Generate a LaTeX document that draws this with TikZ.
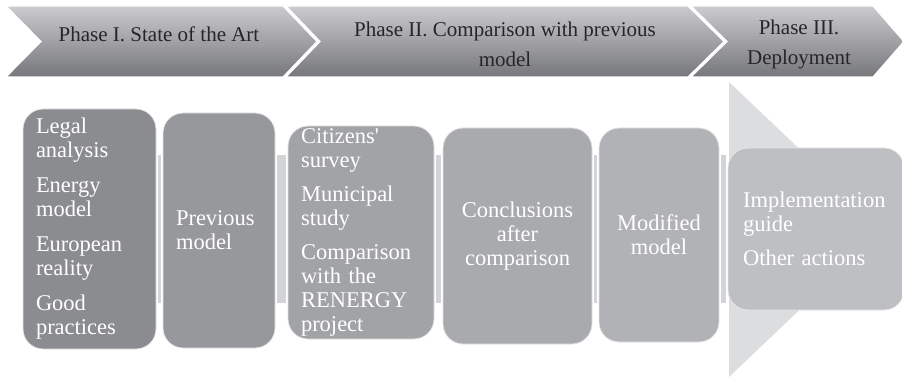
\documentclass[tikz,border=0pt]{standalone}
\usepackage{fontspec}
\setmainfont{Liberation Serif}
\usepackage{tikz}
\usetikzlibrary{positioning}
\definecolor{phasetop}{HTML}{CBCBCE}
\definecolor{phasebot}{HTML}{76777B}
\definecolor{phasetxt}{HTML}{262626}
\definecolor{boxA}{HTML}{8B8C90}
\definecolor{boxB}{HTML}{97989C}
\definecolor{boxC}{HTML}{A2A3A7}
\definecolor{boxD}{HTML}{A9AAAE}
\definecolor{boxE}{HTML}{B1B2B5}
\definecolor{boxF}{HTML}{BEBFC2}
\definecolor{barfill}{HTML}{D3D4D6}
\definecolor{bigarrow}{HTML}{DCDDDF}

\begin{document}
\begin{tikzpicture}[x=1pt,y=-1pt,
    chevron/.style={top color=phasetop, bottom color=phasebot, draw=white, line width=1.2pt},
    phasetext/.style={text=phasetxt, align=center, font=\fontsize{21}{30}\selectfont},
    stepbox/.style={rounded corners=20pt, draw=white!80!gray, line width=0.8pt, text=white,
                    inner xsep=13pt, inner ysep=0pt, font=\fontsize{22.5}{24}\selectfont},
    linkbar/.style={fill=barfill}]
\useasboundingbox (0,0) rectangle (902,379);
% Big arrow behind the last step
\fill[bigarrow] (729,82) -- (884,229.5) -- (729,377) -- cycle;
% Phase chevrons
\path[chevron] (6,6) -- (283,6) -- (317,41.5) -- (283,77) -- (6,77) -- (41,41.5) -- cycle;
\path[chevron] (286,6) -- (688,6) -- (724,41.5) -- (688,77) -- (286,77) -- (320,41.5) -- cycle;
\path[chevron] (691,6) -- (873,6) -- (904,41.5) -- (873,77) -- (691,77) -- (727,41.5) -- cycle;
\node[phasetext] (ph1) at (159,34) {Phase I. State of the Art};
\node[phasetext] (ph2) at (505,44) {Phase II. Comparison with previous\\model};
\node[phasetext] (ph3) at (799,44) {Phase III.\\Deployment};
% Steps
\node[stepbox, fill=boxA, minimum width=133pt, minimum height=240pt, text width=107pt, align=left]
    (legal) at (89.5,229) {Legal\\analysis\\[11pt]Energy\\model\\[11pt]European\\reality\\[11pt]Good\\practices};
\node[stepbox, fill=boxB, minimum width=112pt, minimum height=235pt, text width=86pt, align=left]
    (prev) at (219,230.5) {Previous\\model};
\node[stepbox, fill=boxC, minimum width=146pt, minimum height=213pt, text width=120pt, align=left]
    (survey) at (361,232.5) {Citizens\textquotesingle\\survey\\[10pt]Municipal\\study\\[10pt]Comparison\\with the\\RENERGY\\project};
\node[stepbox, fill=boxD, minimum width=149pt, minimum height=216pt, text width=123pt, align=center]
    (concl) at (517.5,236) {Conclusions\\after\\comparison};
\node[stepbox, fill=boxE, minimum width=120pt, minimum height=214pt, text width=94pt, align=center]
    (modif) at (659,235) {Modified\\model};
\node[stepbox, fill=boxF, minimum width=176pt, minimum height=162pt, text width=146pt, inner xsep=15pt, align=left]
    (guide) at (816,229) {Implementation\\guide\\[10pt]Other actions};
% Links between steps
\fill[linkbar] ([xshift=1.5pt]legal.east |- 0,155) rectangle ([xshift=-1.5pt]prev.west |- 0,303);
\fill[linkbar] ([xshift=1.5pt]prev.east |- 0,155) rectangle ([xshift=-1.5pt]survey.west |- 0,303);
\fill[linkbar] ([xshift=1.5pt]survey.east |- 0,155) rectangle ([xshift=-1.5pt]concl.west |- 0,303);
\fill[linkbar] ([xshift=1.5pt]concl.east |- 0,155) rectangle ([xshift=-1.5pt]modif.west |- 0,303);
\fill[linkbar] ([xshift=1.5pt]modif.east |- 0,155) rectangle ([xshift=-1.5pt]guide.west |- 0,303);
\end{tikzpicture}
\end{document}
